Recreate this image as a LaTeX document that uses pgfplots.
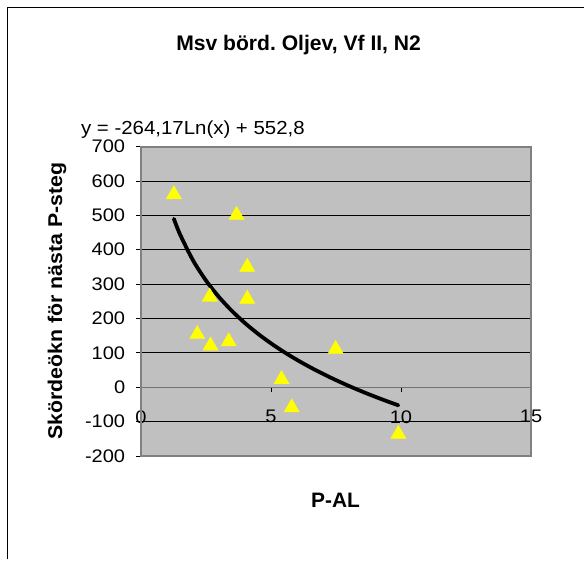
\documentclass[border=0pt]{standalone}
\usepackage{fontspec}
\setmainfont{Liberation Sans}
\newfontfamily\tickfont[FakeStretch=1.1]{Liberation Sans}
\newfontfamily\eqfont[FakeStretch=1.08]{Liberation Sans}
\newfontfamily\ylabfont[FakeStretch=1.07]{Liberation Sans}
\usepackage{pgfplots}
\pgfplotsset{compat=1.18}
\definecolor{plotbg}{HTML}{C0C0C0}
\definecolor{bordergray}{HTML}{808080}
\definecolor{markyellow}{HTML}{FFFF00}
\frenchspacing
\begin{document}
\begin{tikzpicture}[x=1bp,y=1bp]
\fill[white] (0,0) rectangle (585,560);
\draw[black, line width=1.5bp] (7.5,0) -- (7.5,552.5) -- (585,552.5);
\begin{axis}[
  at={(141bp,103.5bp)}, anchor=south west,
  scale only axis, width=390.7bp, height=309.8bp,
  xmin=0, xmax=15, ymin=-200, ymax=700,
  xtick={0,5,10,15}, ytick={-200,-100,...,700},
  axis x line=middle, axis y line=left,
  axis line style={-, draw=black!55, line width=1.2bp},
  axis background/.style={fill=plotbg},
  ymajorgrids, grid style={black, line width=0.75bp},
  tick align=outside, major tick length=5bp,
  tick style={black, line width=0.75bp},
  hide obscured x ticks=false,
  /pgf/number format/assume math mode=true,
  ticklabel style={font=\tickfont\fontsize{18.3}{21}\selectfont},
  xticklabel style={anchor=north, inner sep=0pt, yshift=-18bp},
  yticklabel style={anchor=east, inner sep=0pt, xshift=-10.5bp},
  clip=false,
]
\addplot[black, line width=3.8bp, smooth, line cap=round] coordinates {
(1.27,489.66) (1.5,445.69) (2,369.69) (2.5,310.74) (3,262.58) (3.5,221.85)
(4,186.58) (4.5,155.46) (5,127.63) (5.5,102.45) (6,79.47) (6.5,58.32)
(7,38.75) (7.5,20.53) (8,3.47) (8.5,-12.55) (9,-27.64) (9.5,-41.93) (9.9,-52.82)
};
\addplot[only marks, mark=triangle*, mark size=8.8bp,
  mark options={fill=markyellow, draw=markyellow, yshift=-2.2bp}] coordinates {
(1.27,567) (3.68,507) (4.09,356) (4.09,263) (2.65,269) (2.17,160)
(2.68,127) (3.38,139) (7.49,117) (5.41,29) (5.80,-53) (9.90,-130)
};
\draw[bordergray, line width=2bp] (rel axis cs:0,0) rectangle (rel axis cs:1,1);
\end{axis}
\node[anchor=base, inner sep=0pt, font=\bfseries\fontsize{21.2}{24}\selectfont] at (299,509.6) {Msv börd. Oljev, Vf II, N2};
\node[anchor=base west, inner sep=0pt, font=\eqfont\fontsize{19}{22}\selectfont] at (81,425.7) {y = -264,17Ln(x) + 552,8};
\node[rotate=90, inner sep=0pt, font=\ylabfont\bfseries\fontsize{20}{23}\selectfont] at (57,258.3) {Skördeökn för nästa P-steg};
\node[anchor=base, inner sep=0pt, font=\bfseries\fontsize{21}{24}\selectfont] at (336,51.7) {P-AL};
\end{tikzpicture}
\end{document}
